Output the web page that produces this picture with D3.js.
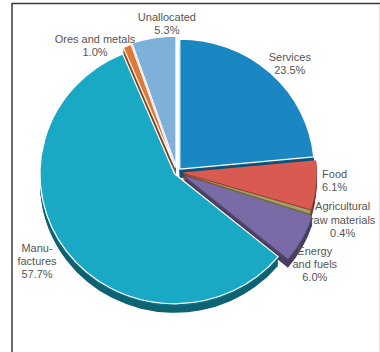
<!DOCTYPE html>
<html>
<head>
<meta charset="utf-8">
<script src="https://cdn.jsdelivr.net/npm/d3@7"></script>
<style>
  body { margin: 0; background: #fff; }
  text { font-family: "Liberation Sans", Arial, sans-serif; font-size: 11px; fill: #555; }
</style>
</head>
<body>
<script>
var categories = ["Services", "Food", "Agricultural raw materials", "Energy and fuels", "Manufactures", "Ores and metals", "Unallocated"];
var shares = [23.5, 6.1, 0.4, 6.0, 57.7, 1.0, 5.3];
var labelLines = [
  ["Services", "23.5%"],
  ["Food", "6.1%"],
  ["Agricultural", "raw materials", "0.4%"],
  ["Energy", "and fuels", "6.0%"],
  ["Manu-", "factures", "57.7%"],
  ["Ores and metals", "1.0%"],
  ["Unallocated", "5.3%"]
];

// layout only
var colors = ["#1a87c2", "#d95a50", "#a3a064", "#7a6aa6", "#19a9c4", "#e0783a", "#7eb0da"];
var explode = [4, 5, 5, 8, 3, 5, 6];
var labelShift = [4.4, -1.6, -0.5, 5.6, 3.5, -12.5, 5.6];   // degrees
var labelRadius = [155, 158, 173, 167, 167, 149, 147];

var width = 380, height = 352;
var cx = 177, cy = 172, r = 130, stretch = 1.035, depth = 9;
var lineH = 13.3;

var svg = d3.select("body").append("svg")
    .attr("width", width)
    .attr("height", height);

// frame
svg.append("line").attr("x1", 12).attr("x2", 12).attr("y1", 3).attr("y2", height)
    .attr("stroke", "#3a3a3a").attr("stroke-width", 1.5);
svg.append("line").attr("x1", 12).attr("x2", width).attr("y1", 3.5).attr("y2", 3.5)
    .attr("stroke", "#3a3a3a").attr("stroke-width", 1.5);
svg.append("line").attr("x1", 379.5).attr("x2", 379.5).attr("y1", 4).attr("y2", height)
    .attr("stroke", "#e2e2e2").attr("stroke-width", 1);

var data = categories.map(function(c, i) { return { name: c, value: shares[i], i: i }; });

var pie = d3.pie().sort(null).value(function(d) { return d.value; });
var arcs = pie(data);
var arc = d3.arc().innerRadius(0).outerRadius(r);

var chart = svg.append("g")
    .attr("transform", `translate(${cx}, ${cy}) scale(${stretch}, 1)`);

function offset(d) {
  var a = (d.startAngle + d.endAngle) / 2;
  var e = explode[d.data.i];
  return [e * Math.sin(a), -e * Math.cos(a)];
}

// side (depth) layers
for (var k = depth; k >= 1; k--) {
  chart.append("g").selectAll("path").data(arcs).enter().append("path")
      .attr("d", arc)
      .attr("transform", function(d) { var o = offset(d); return `translate(${o[0]}, ${o[1] + k})`; })
      .attr("fill", function(d) { return d3.color(colors[d.data.i]).darker(k > 2 ? 1.5 : 1.1); });
}

// top faces
chart.append("g").selectAll("path").data(arcs).enter().append("path")
    .attr("d", arc)
    .attr("transform", function(d) { var o = offset(d); return `translate(${o[0]}, ${o[1]})`; })
    .attr("fill", function(d) { return colors[d.data.i]; })
    .attr("stroke", function(d) { return d.data.i >= 4 || d.data.i == 0 ? "#fff" : "none"; })
    .attr("stroke-width", 1.2)
    .attr("stroke-linejoin", "round");

// labels
var labels = svg.append("g");
arcs.forEach(function(d) {
  var i = d.data.i;
  var a = (d.startAngle + d.endAngle) / 2 + labelShift[i] * Math.PI / 180;
  var x = cx + labelRadius[i] * Math.sin(a);
  var y = cy - 2 - labelRadius[i] * Math.cos(a);
  var lines = labelLines[i];
  var y0 = y - (lines.length - 1) * lineH / 2;
  var t = labels.append("text")
      .attr("text-anchor", "middle")
      .attr("x", x)
      .attr("y", y0)
      .attr("dy", "0.35em");
  lines.forEach(function(l, j) {
    t.append("tspan").attr("x", x).attr("y", y0 + j * lineH).attr("dy", "0.35em").text(l);
  });
});
</script>
</body>
</html>
